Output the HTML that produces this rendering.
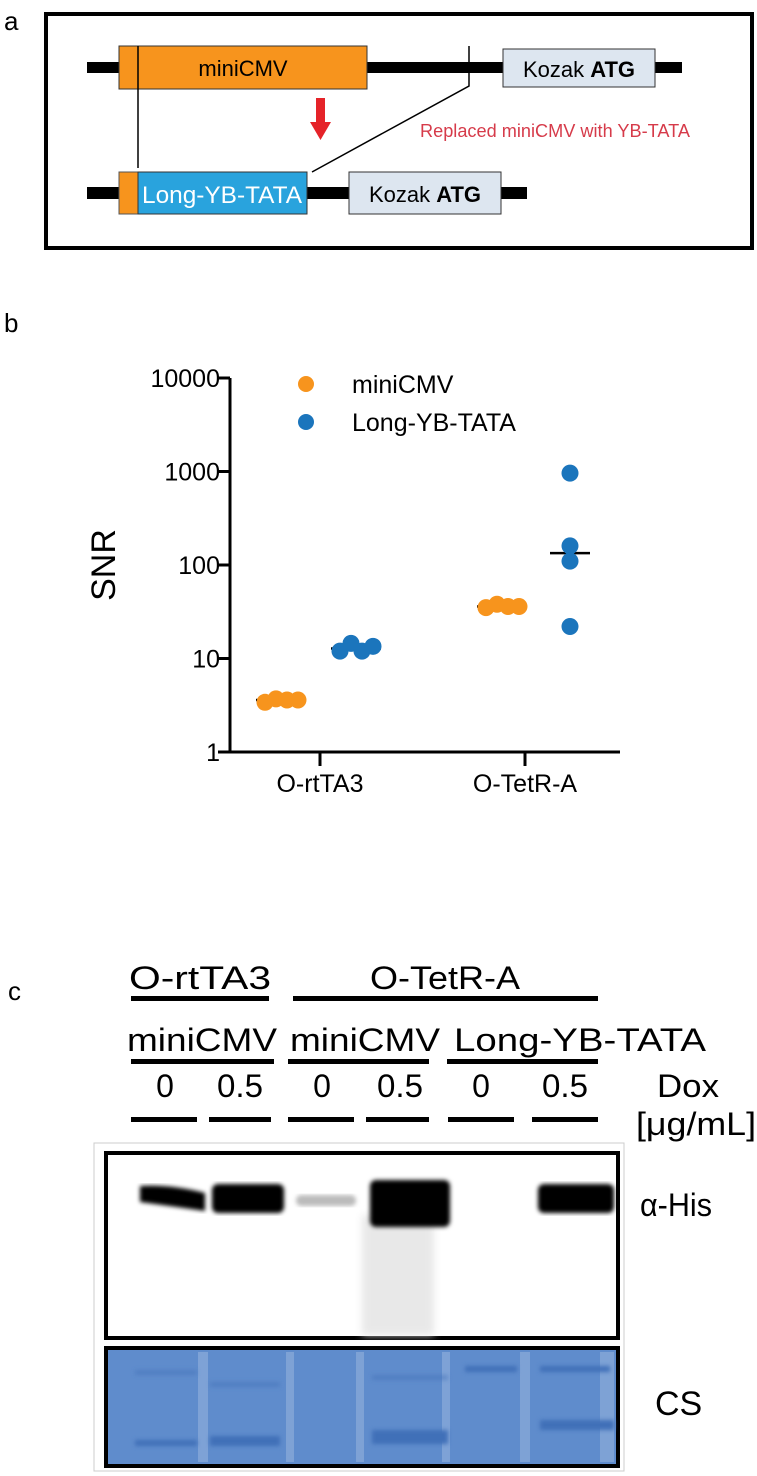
<!DOCTYPE html>
<html><head><meta charset="utf-8"><style>
body{margin:0;background:#fff;}
svg{display:block;font-family:"Liberation Sans",Arial,sans-serif;}
</style></head><body>
<svg id="fig" width="757" height="1476" viewBox="0 0 757 1476">
<defs>
<filter id="blur2"><feGaussianBlur stdDeviation="2"/></filter>
<filter id="blur4"><feGaussianBlur stdDeviation="4"/></filter>
</defs>
<g>
<text x="4" y="30" font-size="26">a</text>
<rect x="46" y="14" width="706" height="234" fill="none" stroke="#000" stroke-width="4"/>
<rect x="87" y="62" width="595" height="11" fill="#000"/>
<rect x="119" y="46" width="248" height="43" fill="#f7941d" stroke="#333" stroke-width="1"/>
<line x1="138" y1="46" x2="138" y2="168" stroke="#000" stroke-width="1.5"/>
<text x="243" y="76" font-size="22" text-anchor="middle">miniCMV</text>
<rect x="503" y="49" width="152" height="38" fill="#dde6f0" stroke="#333" stroke-width="1"/>
<text x="579" y="77" font-size="22" text-anchor="middle">Kozak <tspan font-weight="bold">ATG</tspan></text>
<polyline points="469,46 469,86 312,172" fill="none" stroke="#000" stroke-width="1.5"/>
<rect x="316" y="98" width="9" height="26" fill="#e52329"/>
<polygon points="310,122 331,122 320.5,140" fill="#e52329"/>
<text x="420" y="137" font-size="18" fill="#d63b4a" textLength="270" lengthAdjust="spacingAndGlyphs">Replaced miniCMV with YB-TATA</text>
<rect x="87" y="187" width="440" height="12" fill="#000"/>
<rect x="119" y="172" width="19" height="42" fill="#f7941d" stroke="#555" stroke-width="1"/>
<rect x="138" y="172" width="169" height="42" fill="#29a3dd" stroke="#333" stroke-width="1"/>
<text x="222" y="203" font-size="24" fill="#fff" text-anchor="middle" textLength="160" lengthAdjust="spacingAndGlyphs">Long-YB-TATA</text>
<rect x="349" y="172" width="152" height="42" fill="#dde6f0" stroke="#333" stroke-width="1"/>
<text x="425" y="202" font-size="22" text-anchor="middle">Kozak <tspan font-weight="bold">ATG</tspan></text>
</g>
<g id="chart">
<text x="4" y="332" font-size="26">b</text>
<text transform="translate(115,565) rotate(-90)" font-size="34" text-anchor="middle">SNR</text>
</g>
<g>
<text x="8" y="1000" font-size="26">c</text>
<text x="200" y="989" font-size="32" text-anchor="middle" textLength="142" lengthAdjust="spacingAndGlyphs">O-rtTA3</text>
<rect x="131" y="996" width="138" height="5" fill="#000"/>
<text x="445" y="989" font-size="32" text-anchor="middle" textLength="150" lengthAdjust="spacingAndGlyphs">O-TetR-A</text>
<rect x="293" y="996" width="305" height="5" fill="#000"/>
<text x="202" y="1051" font-size="32" text-anchor="middle" textLength="150" lengthAdjust="spacingAndGlyphs">miniCMV</text>
<text x="365" y="1051" font-size="32" text-anchor="middle" textLength="150" lengthAdjust="spacingAndGlyphs">miniCMV</text>
<text x="580" y="1051" font-size="32" text-anchor="middle" textLength="252" lengthAdjust="spacingAndGlyphs">Long-YB-TATA</text>
<rect x="131" y="1059" width="143" height="5" fill="#000"/>
<rect x="288" y="1059" width="141" height="5" fill="#000"/>
<rect x="447" y="1059" width="151" height="5" fill="#000"/>
<g font-size="32" text-anchor="middle">
<text x="165" y="1097">0</text>
<text x="240" y="1097" textLength="46" lengthAdjust="spacingAndGlyphs">0.5</text>
<text x="322" y="1097">0</text>
<text x="400" y="1097" textLength="46" lengthAdjust="spacingAndGlyphs">0.5</text>
<text x="481" y="1097">0</text>
<text x="565" y="1097" textLength="46" lengthAdjust="spacingAndGlyphs">0.5</text>
</g>
<g fill="#000">
<rect x="131" y="1117" width="66" height="5"/><rect x="209" y="1117" width="62" height="5"/><rect x="288" y="1117" width="66" height="5"/><rect x="366" y="1117" width="63" height="5"/><rect x="448" y="1117" width="66" height="5"/><rect x="532" y="1117" width="66" height="5"/>
</g>
<text x="688" y="1097" font-size="32" text-anchor="middle" textLength="62" lengthAdjust="spacingAndGlyphs">Dox</text>
<text x="696" y="1135" font-size="32" text-anchor="middle" textLength="120" lengthAdjust="spacingAndGlyphs">[μg/mL]</text>
<rect x="94" y="1143" width="530" height="328" fill="none" stroke="#ccc" stroke-width="1"/>
<g>
<rect x="106" y="1153" width="512" height="185" fill="#fff" stroke="#000" stroke-width="4"/>
<rect x="362" y="1215" width="72" height="120" fill="#e8e8e8" filter="url(#blur4)"/>
<path d="M140,1186 Q170,1184 205,1193 L205,1211 Q170,1206 140,1202 Z" fill="#000" filter="url(#blur2)"/>
<rect x="212" y="1184" width="72" height="29" rx="6" fill="#000" filter="url(#blur2)"/>
<rect x="296" y="1195" width="60" height="11" rx="5" fill="#bbb" filter="url(#blur2)"/>
<rect x="370" y="1180" width="80" height="47" rx="6" fill="#000" filter="url(#blur2)"/>
<rect x="538" y="1184" width="76" height="29" rx="6" fill="#000" filter="url(#blur2)"/>
</g>
<text x="640" y="1216" font-size="32" textLength="72" lengthAdjust="spacingAndGlyphs">α-His</text>
<g>
<rect x="106" y="1348" width="512" height="118" fill="#5f8ccc" stroke="#000" stroke-width="4"/>
<g fill="#86a8d8" opacity="0.8">
<rect x="198" y="1352" width="10" height="110"/><rect x="286" y="1352" width="8" height="110"/><rect x="356" y="1352" width="8" height="110"/><rect x="442" y="1352" width="8" height="110"/><rect x="520" y="1352" width="10" height="110"/><rect x="600" y="1352" width="14" height="110"/>
</g>
<g fill="#3f6fb8" filter="url(#blur2)">
<rect x="135" y="1440" width="62" height="6"/><rect x="210" y="1436" width="70" height="10"/><rect x="372" y="1430" width="76" height="14"/><rect x="540" y="1420" width="74" height="10"/>
<rect x="465" y="1366" width="52" height="6"/><rect x="540" y="1366" width="70" height="6"/>
<rect x="135" y="1370" width="62" height="5" opacity="0.5"/><rect x="210" y="1382" width="70" height="5" opacity="0.5"/><rect x="372" y="1375" width="76" height="5" opacity="0.5"/>
</g>
</g>
<text x="655" y="1415" font-size="34">CS</text>
</g>
<script>
const categories = ["O-rtTA3", "O-TetR-A"];
const yTicks = [1, 10, 100, 1000, 10000];
const yTickLabels = ["1", "10", "100", "1000", "10000"];
const seriesNames = ["miniCMV", "Long-YB-TATA"];
const miniCMV_rtTA3 = [3.4, 3.7, 3.6, 3.6];
const longYB_rtTA3 = [12, 14.5, 12, 13.5];
const miniCMV_TetR = [35, 38, 36, 36];
const longYB_TetR = [960, 160, 110, 22];
const medians = [[3.6, 12.8], [36, 134]];

const NS = "http://www.w3.org/2000/svg";
const g = document.getElementById("chart");
const colors = ["#f7941d", "#1b75bc"];
const x0 = 230, xEnd = 620, yBase = 752, decade = 93.5;
function yScale(v){ return yBase - Math.log10(v) * decade; }
function xCat(i){ return 320 + i * 205; }
function mk(tag, attrs){ const e = document.createElementNS(NS, tag); for (const k in attrs) e.setAttribute(k, attrs[k]); g.appendChild(e); return e; }

let axis = mk("path", {d: `M${x0},${yScale(10000)} V${yBase} H${xEnd}`, fill:"none", stroke:"#000", "stroke-width":3});


yTicks.forEach((t, i) => {
  const y = yScale(t);
  const tk = mk("line", {x1: x0 - 12, x2: x0, y1: y, y2: y, stroke:"#000", "stroke-width":3});
  
  
  const lb = mk("text", {x: x0 - 10, y: y + 9, "font-size": 25, "text-anchor": "end"});
  lb.textContent = yTickLabels[i];
  
  
});
categories.forEach((c, i) => {
  const x = xCat(i);
  const tk = mk("line", {x1: x, x2: x, y1: yBase, y2: yBase + 14, stroke:"#000", "stroke-width":3});
  
  
  const lb = mk("text", {x: x, y: yBase + 40, "font-size": 25, "text-anchor": "middle"});
  lb.textContent = c;
  
  
});
const groups = [
  {vals: miniCMV_rtTA3, cat: 0, s: 0, xs: -55},
  {vals: longYB_rtTA3, cat: 0, s: 1, xs: 20},
  {vals: miniCMV_TetR, cat: 1, s: 0, xs: -39},
  {vals: longYB_TetR, cat: 1, s: 1, xs: 45, stack: true}
];
groups.forEach(gr => {
  const cx = xCat(gr.cat) + gr.xs;
  const med = medians[gr.cat][gr.s];
  const half = gr.stack ? 20 : 25;
  const ml = mk("line", {x1: cx + (gr.stack ? 0 : 16) - half, x2: cx + (gr.stack ? 0 : 16) + half, y1: yScale(med), y2: yScale(med), stroke:"#000", "stroke-width":2.5});
  
  
  gr.vals.forEach((v, j) => {
    const px = gr.stack ? cx : cx + j * 11;
    const p = mk("circle", {cx: px, cy: yScale(v), r: 8.5, fill: colors[gr.s]});
    
    
  });
});
seriesNames.forEach((n, i) => {
  const y = 384 + i * 38;
  const d = mk("circle", {cx: 306, cy: y, r: 8, fill: colors[i]});
  
  
  const t = mk("text", {x: 352, y: y + 9, "font-size": 25});
  t.textContent = n;
  
  
});
</script>
</svg>
</body></html>
